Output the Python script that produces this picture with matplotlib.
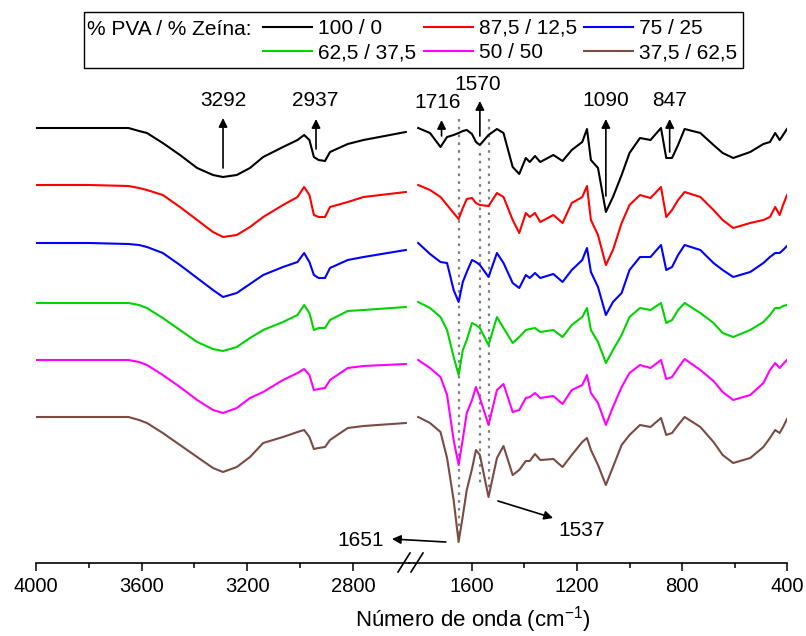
import numpy as np
import matplotlib.pyplot as plt
from matplotlib.lines import Line2D
from matplotlib.patches import Rectangle

plt.rcParams['font.family'] = ['Liberation Sans', 'DejaVu Sans']

# wavenumbers (cm-1), high-frequency segment and fingerprint segment
wn_high = [4000, 3800, 3650, 3610, 3580, 3520, 3455, 3390, 3330, 3292, 3240, 3190, 3140,
           3065, 3010, 2985, 2965, 2948, 2930, 2906, 2887, 2820, 2760, 2600]
wn_low = [1805, 1760, 1720, 1695, 1670, 1651, 1635, 1620, 1600, 1585, 1570, 1537,
          1505, 1480, 1445, 1420, 1395, 1380, 1360, 1340, 1290, 1255, 1220, 1180,
          1162, 1147, 1120, 1090, 1063, 1030, 1000, 960, 920, 880, 860, 838, 815,
          790, 730, 680, 645, 605, 540, 490, 465, 445, 428, 415, 400]

# stacked spectra (offset units, larger = lower on the plot)
s100_h = [128, 128, 128, 131, 133, 143, 155, 168, 175, 177, 175, 168, 157,
          147, 140, 135, 140, 157, 160, 161, 152, 144, 140, 132]
s100_l = [128, 133, 147, 137, 135, 133, 131, 130, 134, 142, 145, 135,
          129, 133, 167, 174, 158, 162, 156, 162, 155, 161, 150, 142,
          129, 160, 168, 212, 197, 175, 153, 138, 140, 128, 158, 158, 145,
          129, 133, 145, 153, 158, 152, 144, 142, 133, 140, 135, 129]

s875_h = [185, 185, 186, 188, 190, 195, 207, 220, 232, 237, 235, 227, 217,
          205, 197, 187, 195, 215, 217, 217, 207, 202, 197, 192]
s875_l = [185, 190, 197, 205, 213, 219, 208, 199, 198, 203, 205, 206,
          193, 197, 220, 233, 213, 217, 213, 222, 215, 223, 203, 197,
          186, 220, 235, 265, 250, 223, 205, 195, 198, 187, 217, 210, 200,
          192, 197, 210, 220, 228, 223, 220, 217, 207, 215, 205, 195]

s75_h = [243, 243, 244, 245, 247, 253, 265, 278, 290, 297, 293, 284, 275,
         267, 262, 253, 262, 275, 278, 278, 268, 260, 257, 250]
s75_l = [243, 254, 262, 263, 290, 302, 282, 272, 260, 262, 265, 277,
         253, 263, 283, 288, 275, 278, 273, 278, 274, 282, 270, 260,
         248, 272, 287, 315, 302, 293, 270, 257, 257, 245, 270, 267, 255,
         245, 250, 263, 270, 277, 272, 263, 257, 253, 253, 250, 246]

s625_h = [303, 303, 303, 305, 308, 318, 330, 342, 349, 351, 347, 338, 330,
          322, 315, 305, 313, 330, 328, 328, 320, 311, 310, 307]
s625_l = [302, 308, 317, 330, 357, 375, 350, 340, 323, 325, 328, 345,
          317, 328, 343, 337, 330, 329, 328, 332, 330, 337, 325, 317,
          308, 330, 342, 363, 350, 335, 317, 308, 310, 303, 323, 320, 310,
          303, 313, 323, 333, 337, 330, 322, 315, 308, 308, 306, 305]

s50_h = [360, 360, 360, 362, 365, 375, 387, 400, 410, 413, 408, 398, 392,
         380, 373, 369, 375, 390, 389, 388, 380, 368, 366, 364]
s50_l = [360, 368, 377, 395, 440, 465, 439, 413, 400, 387, 398, 425,
         390, 384, 412, 410, 398, 397, 393, 398, 396, 404, 390, 385,
         375, 393, 403, 425, 407, 387, 373, 365, 368, 360, 379, 377, 368,
         359, 370, 381, 392, 400, 395, 383, 370, 363, 368, 364, 360]

s375_h = [417, 417, 417, 420, 423, 433, 445, 457, 468, 472, 467, 457, 443,
          437, 432, 430, 437, 449, 448, 447, 440, 428, 426, 423]
s375_l = [417, 423, 432, 458, 500, 542, 516, 490, 469, 450, 455, 497,
          458, 446, 475, 470, 461, 461, 454, 460, 459, 467, 455, 442,
          438, 450, 465, 485, 467, 445, 435, 425, 427, 418, 435, 433, 425,
          417, 427, 442, 455, 463, 458, 447, 438, 430, 433, 427, 419]

labels = ['100 / 0', '87,5 / 12,5', '75 / 25', '62,5 / 37,5', '50 / 50', '37,5 / 62,5']
colors = ['black', '#ff0000', '#0000ff', '#00d400', '#ff00ff', '#7a4a44']
high = [s100_h, s875_h, s75_h, s625_h, s50_h, s375_h]
low = [s100_l, s875_l, s75_l, s625_l, s50_l, s375_l]

W, H = 806, 636
fig = plt.figure(figsize=(W / 100, H / 100), dpi=100)


def box(x0, x1, y0, y1):
    return [x0 / W, 1 - y1 / H, (x1 - x0) / W, (y1 - y0) / H]


ax1 = fig.add_axes(box(36, 409, 40, 563))
ax2 = fig.add_axes(box(409, 787, 40, 563), sharey=ax1)

handles = []
for c, lab, yh, yl in zip(colors, labels, high, low):
    ln, = ax1.plot(wn_high, yh, color=c, lw=1.5, label=lab)
    ax2.plot(wn_low, yl, color=c, lw=1.5)
    handles.append(ln)

ax1.set_xlim(4000, 2588)
ax2.set_xlim(1840, 400)
ax1.set_ylim(563, 40)

for ax in (ax1, ax2):
    for s in ('top', 'left', 'right'):
        ax.spines[s].set_visible(False)
    ax.spines['bottom'].set_linewidth(1.2)
    ax.tick_params(axis='y', left=False, labelleft=False)
    ax.tick_params(axis='x', which='major', direction='out', length=6, width=1.1,
                   labelsize=14.5, pad=4)
    ax.tick_params(axis='x', which='minor', direction='out', length=3.5, width=1.1)
    ax.set_facecolor('none')

ax1.set_xticks([4000, 3600, 3200, 2800])
ax1.set_xticks([3800, 3400, 3000], minor=True)
ax2.set_xticks([1600, 1200, 800, 400])
ax2.set_xticks([1400, 1000, 600], minor=True)

# dotted guide lines
dots = dict(colors='#808080', linestyles=(0, (1.2, 2.3)), lw=1.6, zorder=0)
ax2.vlines(1651, 119, 537, **dots)
ax2.vlines(1570, 153, 483, **dots)
ax2.vlines(1537, 119, 490, **dots)

arrow = dict(arrowstyle='-|>', color='black', lw=1.2, mutation_scale=13, shrinkA=0, shrinkB=0)
fs = 15

# upward arrows with labels
ax1.annotate('', xy=(3292, 118), xytext=(3292, 168), arrowprops=arrow)
ax1.text(3292, 101, '3292', ha='center', va='center', fontsize=fs)
ax1.annotate('', xy=(2940, 119), xytext=(2940, 149), arrowprops=arrow)
ax1.text(2945, 101, '2937', ha='center', va='center', fontsize=fs)
ax2.annotate('', xy=(1716, 120), xytext=(1716, 136), arrowprops=arrow)
ax2.text(1730, 102, '1716', ha='center', va='center', fontsize=fs)
ax2.annotate('', xy=(1570, 101), xytext=(1570, 136), arrowprops=arrow)
ax2.text(1577, 84, '1570', ha='center', va='center', fontsize=fs)
ax2.annotate('', xy=(1090, 119), xytext=(1090, 196), arrowprops=arrow)
ax2.text(1090, 101, '1090', ha='center', va='center', fontsize=fs)
ax2.annotate('', xy=(847, 119), xytext=(847, 152), arrowprops=arrow)
ax2.text(847, 101, '847', ha='center', va='center', fontsize=fs)

# side arrows
ax2.annotate('', xy=(1905, 539), xytext=(1700, 542), arrowprops=arrow, annotation_clip=False)
ax2.text(2023, 540, '1651', ha='center', va='center', fontsize=fs, clip_on=False)
ax2.annotate('', xy=(1291, 518), xytext=(1501, 501), arrowprops=arrow)
ax2.text(1181, 531, '1537', ha='center', va='center', fontsize=fs)

# axis break marks
for xc in (404, 417):
    fig.add_artist(Line2D([(xc - 6) / W, (xc + 6) / W], [1 - 572 / H, 1 - 553 / H],
                          transform=fig.transFigure, color='black', lw=1.2))

fig.text(473 / W, 1 - 620 / H, 'Número de onda (cm$^{\\mathregular{-1}}$)', ha='center',
         va='center', fontsize=16)

# legend
order = [0, 3, 1, 4, 2, 5]
fig.legend([handles[i] for i in order], [labels[i] for i in order], ncol=3,
           loc='upper left', bbox_to_anchor=(263 / W, 1 - 19 / H), frameon=False,
           borderpad=0, borderaxespad=0, handlelength=2.35, handletextpad=0.3,
           columnspacing=0.35, labelspacing=0.25, fontsize=15)
fig.text(87 / W, 1 - 35 / H, '% PVA / % Zeína:', ha='left', va='baseline', fontsize=15)
fig.add_artist(Rectangle((84 / W, 1 - 68 / H), (743 - 84) / W, 56 / H,
                         transform=fig.transFigure, fill=False, ec='black', lw=1))

plt.savefig('out.png', dpi=100)
